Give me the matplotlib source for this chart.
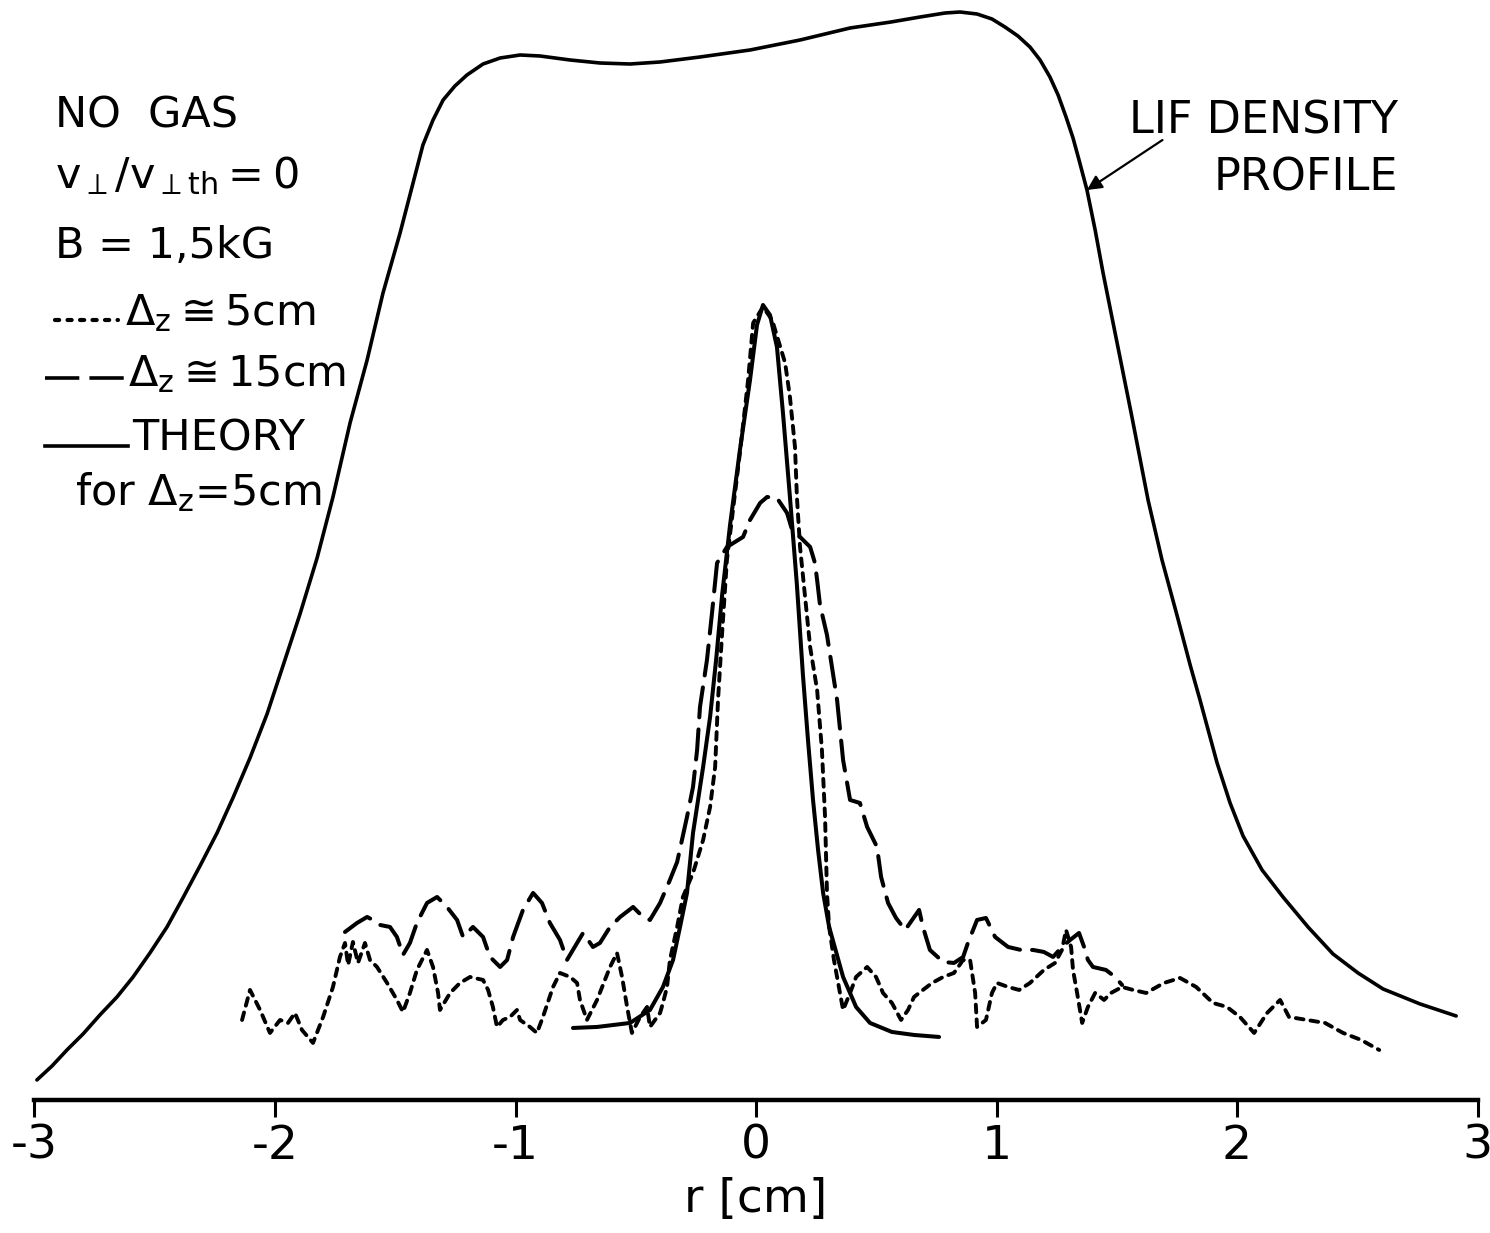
import matplotlib
matplotlib.use("Agg")
import matplotlib.pyplot as plt
from matplotlib.lines import Line2D

plt.rcParams['font.family'] = ['DejaVu Sans']
plt.rcParams['mathtext.fontset'] = 'dejavusans'
plt.rcParams['mathtext.default'] = 'regular'
plt.rcParams['axes.unicode_minus'] = False

# ---------------- data (r in cm, signal in arbitrary units) ----------------
lif_r = [-2.990, -2.927, -2.865, -2.798, -2.728, -2.657, -2.590, -2.520, -2.449,
         -2.383, -2.312, -2.241, -2.175, -2.104, -2.033, -1.967, -1.896, -1.825,
         -1.759, -1.688, -1.617, -1.551, -1.480, -1.426, -1.385, -1.343, -1.301,
         -1.252, -1.202, -1.135, -1.064, -0.981, -0.898, -0.773, -0.649, -0.524,
         -0.399, -0.233, -0.025, 0.183, 0.391, 0.561, 0.682, 0.786, 0.848, 0.919,
         0.981, 1.035, 1.089, 1.139, 1.181, 1.222, 1.256, 1.289, 1.318, 1.343,
         1.376, 1.410, 1.443, 1.493, 1.563, 1.630, 1.688, 1.750, 1.805, 1.846,
         1.917, 1.971, 2.025, 2.104, 2.191, 2.295, 2.399, 2.503, 2.607, 2.761,
         2.911]
lif_n = [0.20, 0.34, 0.50, 0.66, 0.85, 1.03, 1.23, 1.47, 1.73,
         2.02, 2.34, 2.67, 3.02, 3.42, 3.86, 4.34, 4.86, 5.42,
         6.03, 6.77, 7.40, 8.07, 8.67, 9.17, 9.55, 9.80, 10.00,
         10.14, 10.25, 10.36, 10.42, 10.45, 10.44, 10.40, 10.37, 10.36,
         10.38, 10.43, 10.50, 10.60, 10.72, 10.78, 10.83, 10.87, 10.88, 10.86,
         10.81, 10.73, 10.64, 10.53, 10.40, 10.23, 10.05, 9.83, 9.62, 9.40,
         9.10, 8.70, 8.27, 7.67, 6.83, 6.00, 5.40, 4.85, 4.35, 4.00,
         3.37, 2.97, 2.64, 2.30, 2.03, 1.73, 1.46, 1.27, 1.11, 0.96,
         0.84]

theory_r = [-0.761, -0.661, -0.524, -0.441, -0.387, -0.345, -0.316, -0.287, -0.262,
            -0.220, -0.191, -0.166, -0.141, -0.108, -0.067, -0.025, 0.004, 0.029,
            0.058, 0.087, 0.112, 0.141, 0.170, 0.195, 0.216, 0.237, 0.258, 0.279,
            0.304, 0.362, 0.416, 0.474, 0.565, 0.657, 0.761]
theory_n = [0.72, 0.73, 0.77, 0.90, 1.13, 1.40, 1.73, 2.07, 2.67,
            3.33, 3.83, 4.40, 5.05, 5.75, 6.50, 7.20, 7.75, 7.95,
            7.85, 7.53, 6.87, 6.03, 5.15, 4.25, 3.60, 3.00, 2.50, 2.07,
            1.73, 1.23, 0.93, 0.77, 0.68, 0.65, 0.63]

dz15_r = [-1.709, -1.659, -1.617, -1.593, -1.563, -1.522, -1.493, -1.468, -1.439,
          -1.410, -1.368, -1.326, -1.285, -1.243, -1.218, -1.177, -1.135, -1.106,
          -1.064, -1.035, -1.010, -0.969, -0.927, -0.890, -0.857, -0.815, -0.786,
          -0.744, -0.719, -0.678, -0.649, -0.607, -0.565, -0.511, -0.470, -0.441,
          -0.399, -0.358, -0.328, -0.287, -0.262, -0.245, -0.233, -0.204, -0.183,
          -0.162, -0.121, -0.054, -0.025, 0.017, 0.046, 0.087, 0.129, 0.150,
          0.183, 0.225, 0.245, 0.254, 0.266, 0.295, 0.337, 0.362, 0.391, 0.432,
          0.462, 0.503, 0.520, 0.549, 0.582, 0.620, 0.649, 0.678, 0.694, 0.723,
          0.778, 0.823, 0.861, 0.881, 0.919, 0.956, 0.994, 1.048, 1.102, 1.152,
          1.197, 1.235, 1.272, 1.306, 1.343, 1.364, 1.380, 1.401, 1.455, 1.493,
          1.522]
dz15_n = [1.68, 1.77, 1.83, 1.80, 1.75, 1.73, 1.63, 1.45, 1.57,
          1.77, 1.97, 2.03, 1.93, 1.80, 1.63, 1.73, 1.63, 1.43,
          1.33, 1.40, 1.63, 1.90, 2.07, 1.97, 1.77, 1.60, 1.40,
          1.57, 1.67, 1.53, 1.57, 1.73, 1.83, 1.93, 1.83, 1.80,
          1.97, 2.20, 2.38, 2.83, 3.13, 3.50, 3.93, 4.40, 4.87,
          5.37, 5.53, 5.63, 5.80, 5.97, 6.03, 6.02, 5.87, 5.70,
          5.63, 5.53, 5.37, 5.20, 4.95, 4.65, 4.00, 3.40, 3.00, 2.97,
          2.73, 2.53, 2.23, 1.97, 1.82, 1.70, 1.80, 1.90, 1.73, 1.50,
          1.38, 1.37, 1.43, 1.57, 1.80, 1.82, 1.63, 1.53, 1.50, 1.50,
          1.48, 1.43, 1.53, 1.60, 1.67, 1.53, 1.40, 1.33, 1.30, 1.23,
          1.15]

dz5_r = [-2.137, -2.104, -2.062, -2.021, -1.979, -1.946, -1.917, -1.888, -1.842,
         -1.800, -1.759, -1.730, -1.709, -1.696, -1.676, -1.655, -1.626, -1.605,
         -1.576, -1.534, -1.493, -1.468, -1.439, -1.410, -1.368, -1.343, -1.322,
         -1.314, -1.272, -1.231, -1.189, -1.135, -1.114, -1.094, -1.077, -1.052,
         -1.023, -0.994, -0.981, -0.940, -0.911, -0.886, -0.844, -0.815, -0.773,
         -0.744, -0.732, -0.703, -0.661, -0.607, -0.578, -0.557, -0.536, -0.516,
         -0.482, -0.453, -0.441, -0.399, -0.387, -0.370, -0.358, -0.328, -0.304,
         -0.262, -0.220, -0.191, -0.170, -0.158, -0.141, -0.121, -0.067, -0.033,
         -0.012, 0.029, 0.067, 0.121, 0.141, 0.162, 0.170, 0.183, 0.204, 0.225,
         0.254, 0.274, 0.287, 0.295, 0.304, 0.324, 0.362, 0.391, 0.416, 0.462,
         0.499, 0.528, 0.565, 0.603, 0.632, 0.657, 0.694, 0.732, 0.778, 0.823,
         0.861, 0.890, 0.911, 0.919, 0.956, 0.981, 1.002, 1.048, 1.094, 1.139,
         1.197, 1.243, 1.272, 1.289, 1.310, 1.318, 1.335, 1.356, 1.380, 1.410,
         1.447, 1.476, 1.522, 1.568, 1.622, 1.696, 1.763, 1.830, 1.900, 1.958,
         2.012, 2.071, 2.125, 2.179, 2.216, 2.291, 2.366, 2.441, 2.516, 2.591]
dz5_n = [0.80, 1.10, 0.90, 0.67, 0.80, 0.77, 0.87, 0.70, 0.57,
         0.83, 1.13, 1.43, 1.57, 1.35, 1.58, 1.37, 1.57, 1.40,
         1.33, 1.17, 1.00, 0.88, 1.07, 1.30, 1.50, 1.33, 1.07,
         0.90, 1.07, 1.17, 1.23, 1.20, 1.10, 0.93, 0.73, 0.80,
         0.83, 0.90, 0.80, 0.73, 0.67, 0.83, 1.13, 1.27, 1.23,
         1.17, 1.00, 0.80, 1.00, 1.33, 1.47, 1.23, 0.93, 0.67,
         0.83, 0.93, 0.73, 0.87, 0.97, 1.13, 1.40, 1.73, 2.03,
         2.27, 2.60, 2.93, 3.33, 4.00, 4.67, 5.40, 6.47, 7.20,
         7.77, 7.93, 7.80, 7.37, 7.03, 6.53, 6.03, 5.53, 5.03, 4.53,
         4.10, 3.50, 2.83, 2.07, 1.73, 1.40, 0.90, 1.07, 1.23, 1.33,
         1.23, 1.07, 0.97, 0.80, 0.90, 1.03, 1.10, 1.17, 1.23, 1.27,
         1.40, 1.40, 1.07, 0.73, 0.80, 1.07, 1.17, 1.13, 1.10, 1.17,
         1.30, 1.37, 1.50, 1.70, 1.53, 1.30, 1.07, 0.77, 0.93, 1.07,
         1.00, 1.07, 1.13, 1.10, 1.07, 1.17, 1.22, 1.13, 0.97, 0.93,
         0.83, 0.67, 0.87, 1.00, 0.83, 0.80, 0.77, 0.67, 0.60, 0.50]

xticks = [-3, -2, -1, 0, 1, 2, 3]
xticklabels = ["-3", "-2", "-1", "0", "1", "2", "3"]

# ---------------- figure ----------------
fig = plt.figure(figsize=(14.90, 12.33), dpi=100)
ax = fig.add_axes([0.02315, 0.1079, 0.9685, 0.8921])

ax.plot(lif_r, lif_n, color='black', lw=2.6, solid_capstyle='round',
        solid_joinstyle='round', clip_on=False)
ax.plot(theory_r, theory_n, color='black', lw=2.9, solid_capstyle='round',
        solid_joinstyle='round')
ax.plot(dz15_r, dz15_n, color='black', lw=2.9, dashes=(7.5, 3.0), dash_capstyle='round',
        dash_joinstyle='round')
ax.plot(dz5_r, dz5_n, color='black', lw=2.8, dashes=(2.0, 1.8), dash_capstyle='round',
        dash_joinstyle='round')

ax.set_xlim(-3, 3)
ax.set_ylim(0, 11)
for s in ['left', 'right', 'top']:
    ax.spines[s].set_visible(False)
ax.spines['bottom'].set_linewidth(3.2)
ax.set_yticks([])
ax.set_xticks(xticks)
ax.set_xticklabels(xticklabels)
ax.tick_params(axis='x', direction='out', length=12, width=2.2, pad=5,
               labelsize=34)
ax.set_xlabel("r [cm]", fontsize=34, labelpad=6)

# annotation arrow for LIF profile
ax.annotate("", xy=(1.376, 9.10), xytext=(1.69, 9.60),
            arrowprops=dict(arrowstyle='-|>', color='black', lw=1.6,
                            mutation_scale=22, shrinkA=0, shrinkB=0))
fig.text(0.9383, 0.8921, "LIF DENSITY", ha='right', va='baseline', fontsize=32)
fig.text(0.9383, 0.8459, "PROFILE", ha='right', va='baseline', fontsize=32)

# left-hand annotation block
fs = 31
fig.text(0.0369, 0.8962, "NO  GAS", ha='left', va='baseline', fontsize=fs)
fig.text(0.0369, 0.8475, r"$v_{\perp}/v_{\perp th}=0$", ha='left', va='baseline', fontsize=fs)
fig.text(0.0369, 0.7908, "B = 1,5kG", ha='left', va='baseline', fontsize=fs)

fig.add_artist(Line2D([55/1490, 118/1490], [1-320/1233, 1-320/1233], color='black',
                      lw=3.0, dashes=(1.0, 2.0), dash_capstyle='round',
                      transform=fig.transFigure))
fig.text(125/1490, 0.7364, r"$\Delta_z\cong 5cm$", ha='left', va='baseline', fontsize=fs)

fig.add_artist(Line2D([45/1490, 125/1490], [1-378/1233, 1-378/1233], color='black',
                      lw=2.6, dashes=(9.5, 2.8), transform=fig.transFigure))
fig.text(128/1490, 0.6869, r"$\Delta_z\cong 15cm$", ha='left', va='baseline', fontsize=fs)

fig.add_artist(Line2D([45/1490, 128/1490], [1-446/1233, 1-446/1233], color='black',
                      lw=2.6, transform=fig.transFigure))
fig.text(132/1490, 0.6350, "THEORY", ha='left', va='baseline', fontsize=fs)
fig.text(75/1490, 0.5904, r"for $\Delta_z$=5cm", ha='left', va='baseline', fontsize=fs)

fig.savefig("out.png", dpi=100, facecolor='white')
